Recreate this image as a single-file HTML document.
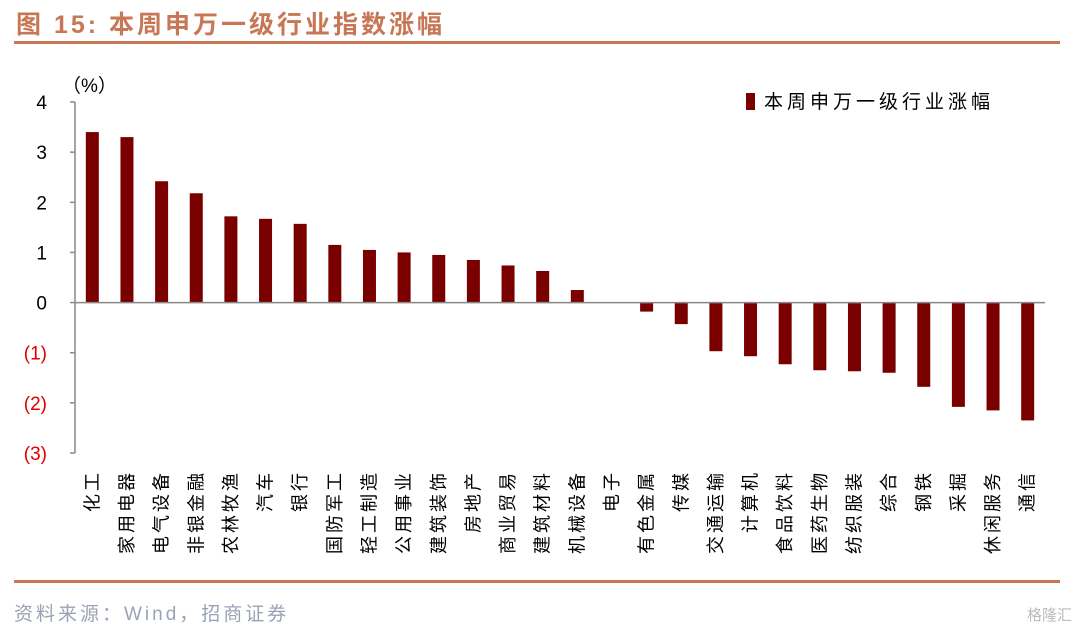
<!DOCTYPE html>
<html><head><meta charset="utf-8"><style>
body{margin:0;background:#fff;width:1080px;height:630px;overflow:hidden;font-family:"Liberation Sans","Noto Sans CJK SC",sans-serif;}
</style></head><body>
<svg id="c" width="1080" height="630" xmlns="http://www.w3.org/2000/svg">
<text x="16" y="33" font-size="25" font-weight="bold" fill="#C87755" letter-spacing="3" font-family="Liberation Sans,Noto Sans CJK SC,sans-serif">图 15:  本周申万一级行业指数涨幅</text>
<rect x="14" y="41" width="1046" height="3" fill="#C87755"/>
<rect x="14" y="580" width="1046" height="3" fill="#C87755"/>
<text x="14" y="620" font-size="19" fill="#9aa3b5" letter-spacing="3" font-family="Liberation Sans,Noto Sans CJK SC,sans-serif">资料来源：Wind，招商证券</text>
<text x="1072" y="620" font-size="15" fill="#bbb" text-anchor="end" font-family="Liberation Sans,Noto Sans CJK SC,sans-serif">格隆汇</text>
<text x="62" y="92" font-size="19" fill="#000" font-family="Liberation Sans,Noto Sans CJK SC,sans-serif">（%）</text>
<rect x="746" y="93" width="9" height="17" fill="#7A0000"/>
<text x="764" y="108" font-size="19" fill="#000" letter-spacing="4" font-family="Liberation Sans,Noto Sans CJK SC,sans-serif">本周申万一级行业涨幅</text>
<g id="g"></g>
</svg>
<script>
const categories=["化工","家用电器","电气设备","非银金融","农林牧渔","汽车","银行","国防军工","轻工制造","公用事业","建筑装饰","房地产","商业贸易","建筑材料","机械设备","电子","有色金属","传媒","交通运输","计算机","食品饮料","医药生物","纺织服装","综合","钢铁","采掘","休闲服务","通信"];
const values=[3.4,3.3,2.42,2.18,1.72,1.67,1.57,1.15,1.05,1.0,0.95,0.85,0.74,0.63,0.25,0,-0.18,-0.43,-0.97,-1.07,-1.23,-1.35,-1.37,-1.4,-1.68,-2.08,-2.15,-2.35];
const ticks=[4,3,2,1,0,-1,-2,-3];
const tickLabels=["4","3","2","1","0","(1)","(2)","(3)"];
const NS="http://www.w3.org/2000/svg",g=document.getElementById('g');
const x0=75,x1=1045,y0=102,yMax=4,yMin=-3,y1=453;
const y=v=>y0+(yMax-v)*(y1-y0)/(yMax-yMin);
const slot=(x1-x0)/categories.length;
const xc=i=>x0+slot*(i+0.5);
function mk(t,a){const e=document.createElementNS(NS,t);for(const k in a)e.setAttribute(k,a[k]);g.appendChild(e);return e;}
let ax=mk('line',{x1:x0,y1:y0,x2:x0,y2:y1,stroke:'#888','stroke-width':1.5});


ticks.forEach((t,i)=>{
 let l=mk('line',{x1:x0-5,x2:x0,y1:y(t),y2:y(t),stroke:'#888','stroke-width':1.5});
 
 
 let tx=mk('text',{x:x0-28,y:y(t)+7,'font-size':19,'text-anchor':'end',fill:t<0?'#E00000':'#000'});
 tx.textContent=tickLabels[i];
 
 
});
categories.forEach((c,i)=>{
 const v=values[i],top=y(Math.max(v,0)),h=Math.abs(y(v)-y(0));
 let r=mk('rect',{x:xc(i)-6.5,y:top,width:13,height:Math.max(h,0),fill:'#7A0000'});
 
 
 const lx=xc(i)+6,ly=470;
 let tx=mk('text',{x:lx,y:ly,'font-size':18,fill:'#000','text-anchor':'end',transform:`rotate(-90 ${lx} ${ly})`,'font-family':'Noto Sans CJK SC,sans-serif','letter-spacing':3});
 tx.textContent=c;
 
 
});
let xa=mk('line',{x1:x0,x2:x1,y1:y(0),y2:y(0),stroke:'#888','stroke-width':1.5});


</script>
</body></html>
